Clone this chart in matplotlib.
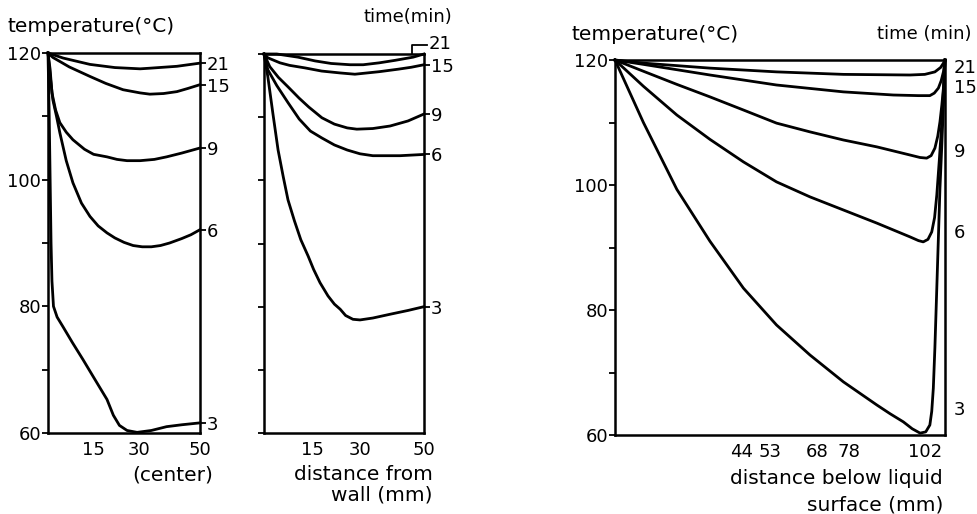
import matplotlib
matplotlib.use("Agg")
import matplotlib.pyplot as plt

plt.rcParams["font.family"] = ["DejaVu Sans"]

# ---- data ----
times = [21, 15, 9, 6, 3]

# left panel: distance from wall to center (mm) vs temperature
left_x = {
    21: [0, 5, 13.8, 22, 30.3, 33.5, 42.4, 50],
    15: [0, 1.6, 7, 13.8, 19, 24.7, 30.3, 33.5, 38, 42.4, 46, 50],
    9: [0, 0.7, 1.3, 2.5, 3.9, 6, 8.2, 12, 15, 19.4, 22.7, 26, 30.3, 35, 39, 44, 50],
    6: [0, 0.7, 1.6, 2.8, 3.9, 6, 8.2, 11, 13.8, 16.5, 19.4, 22, 25, 28, 31, 34, 37, 40, 44, 47, 50],
    3: [0, 0.4, 0.7, 1.0, 1.3, 1.8, 3, 4.9, 8, 11.5, 15, 19.4, 21.5, 23.5, 26, 29.3, 34, 39, 44, 50],
}
left_t = {
    21: [120, 119.2, 118.2, 117.7, 117.5, 117.6, 117.9, 118.4],
    15: [120, 119.3, 117.8, 116.3, 115.2, 114.2, 113.7, 113.5, 113.6, 113.9, 114.4, 115],
    9: [120, 117.4, 113.7, 111, 109, 107.5, 106.3, 104.8, 104, 103.6, 103.2, 103.0, 103, 103.2, 103.6, 104.2, 105],
    6: [120, 116.5, 112.6, 110, 107.4, 103, 99.5, 96.3, 94.2, 92.7, 91.6, 90.8, 90.1, 89.6, 89.4, 89.4,
        89.6, 90, 90.7, 91.3, 92.1],
    3: [120, 110, 100, 90, 84, 80, 78.3, 76.8, 74.3, 71.6, 68.8, 65.3, 62.8, 61.2, 60.4, 60.1, 60.4, 61, 61.3, 61.6],
}

# middle panel: distance from wall (mm) vs temperature
mid_x = {
    21: [0, 4, 10.6, 16, 21, 26.9, 31, 36, 41, 46.6, 50],
    15: [0, 1.2, 5, 8, 12.8, 18, 23.8, 28.4, 36, 42, 46, 50],
    9: [0, 1.8, 4.5, 7.5, 11, 14, 18.1, 22, 26, 29, 34, 39.4, 45, 50],
    6: [0, 1.2, 4, 7.5, 11, 14.5, 18.1, 22, 26, 30, 34, 42.5, 50],
    3: [0, 1.2, 2.8, 4.4, 6, 7.5, 9.5, 11.5, 13.8, 15.5, 17.5, 20, 22, 23.8, 25.5, 27.8, 30, 34, 39.4, 45, 50],
}
mid_t = {
    21: [120, 120, 119.5, 118.9, 118.5, 118.3, 118.3, 118.6, 119, 119.5, 120],
    15: [120, 119.4, 118.6, 118.2, 117.8, 117.3, 117, 116.8, 117.2, 117.6, 117.9, 118.3],
    9: [120, 118, 116.3, 114.8, 113, 111.6, 109.9, 108.9, 108.3, 108.1, 108.2, 108.6, 109.4, 110.5],
    6: [120, 117.5, 115, 112.3, 109.7, 107.8, 106.7, 105.6, 104.8, 104.2, 103.9, 103.9, 104.1],
    3: [120, 116.4, 110.5, 104.8, 100.6, 96.9, 93.6, 90.6, 88, 85.9, 83.8, 81.7, 80.4, 79.6, 78.6, 78,
        77.9, 78.2, 78.8, 79.4, 80],
}

# right panel: distance below liquid surface (mm) vs temperature
surf_x = {
    21: [3.8, 12.8, 33.9, 55, 76.2, 97.3, 102, 105.2, 107, 107.9, 108.4],
    15: [3.8, 12.8, 33.9, 55, 76.2, 92, 100, 103.6, 105, 106.3, 107.2, 107.9, 108.4],
    9: [3.8, 12.8, 23.4, 33.9, 44.5, 55, 65.6, 76.2, 86.8, 97.3, 100.5, 102.6, 104, 105.2, 106.1, 106.8,
        107.4, 107.9, 108.4],
    6: [3.8, 12.8, 23.4, 33.9, 44.5, 55, 65.6, 76.2, 86.8, 97.3, 100, 101.5, 103, 104.2, 105.1, 105.8,
        106.6, 107.4, 107.9, 108.4],
    3: [3.8, 12.8, 23.4, 33.9, 44.5, 55, 65.6, 76.2, 86.8, 91, 95.2, 98, 100.5, 102.3, 103.6, 104.2,
        104.7, 105.2, 105.8, 106.3, 106.8, 107.4, 107.9, 108.4],
}
surf_t = {
    21: [120, 119.5, 118.7, 118.1, 117.7, 117.6, 117.7, 118.1, 118.8, 119.5, 120],
    15: [120, 119.3, 117.6, 116, 114.9, 114.4, 114.3, 114.3, 114.7, 115.5, 116.7, 118.1, 120],
    9: [120, 118.2, 116.1, 114.1, 112, 109.9, 108.5, 107.2, 106.1, 104.8, 104.4, 104.3, 104.7, 105.9,
        107.8, 110.1, 112.8, 115.5, 120],
    6: [120, 115.8, 111.2, 107.3, 103.7, 100.5, 98.1, 96, 93.9, 91.7, 91.1, 90.9, 91.3, 92.5, 94.8, 98.4,
        104, 110.1, 115, 120],
    3: [120, 110, 99.3, 91, 83.5, 77.6, 72.8, 68.5, 64.8, 63.4, 62.1, 61, 60.3, 60.5, 61.6, 63.8, 67.5,
        74, 83.5, 91.5, 99.5, 106.5, 112.8, 120],
}
surf_label_t = [118.7, 115.5, 105.3, 92.3, 64]

wall_ticks = [15, 30, 50]
surf_ticks = [44, 53, 68, 78, 102]
y_ticks = [60, 70, 80, 90, 100, 110, 120]
y_labels = ["60", "", "80", "", "100", "", "120"]

W, H = 978, 514
FS = 13      # numbers
FW = 14.5    # words
LW = 2.0


def px(x0, y0, x1, y1):
    # pixel box -> figure fraction rect
    return [x0 / W, 1 - y1 / H, (x1 - x0) / W, (y1 - y0) / H]


def style_axes(ax, xlim, labels=True):
    ax.set_xlim(*xlim)
    ax.set_ylim(60, 120)
    for s in ax.spines.values():
        s.set_linewidth(1.8)
    ax.set_yticks(y_ticks)
    ax.set_yticklabels(y_labels if labels else [""] * len(y_ticks))
    ax.tick_params(axis="y", direction="out", length=4, width=1.3, pad=1, labelsize=FS)
    ax.tick_params(axis="x", length=0, pad=6, labelsize=FS)


fig = plt.figure(figsize=(W / 100, H / 100), dpi=100)

# left panel
ax1 = fig.add_axes(px(48, 53, 200, 433))
for t in times:
    ax1.plot(left_x[t], left_t[t], color="black", lw=LW, clip_on=False)
style_axes(ax1, (0, 50))
ax1.set_xticks(wall_ticks)
ax1.set_xticklabels([str(v) for v in wall_ticks])
sec1 = ax1.secondary_yaxis("right")
sec1.set_yticks([left_t[t][-1] for t in times])
sec1.set_yticklabels([str(t) for t in times])
sec1.tick_params(direction="out", length=4, width=1.3, pad=1, labelsize=FS)
sec1.spines["right"].set_visible(False)

# middle panel
ax2 = fig.add_axes(px(264, 54, 424, 433))
for t in times:
    ax2.plot(mid_x[t], mid_t[t], color="black", lw=LW, clip_on=False)
style_axes(ax2, (0, 50), labels=False)
ax2.set_xticks(wall_ticks)
ax2.set_xticklabels([str(v) for v in wall_ticks])
sec2 = ax2.secondary_yaxis("right")
sec2.set_yticks([mid_t[t][-1] for t in times[1:]])
sec2.set_yticklabels([str(t) for t in times[1:]])
sec2.tick_params(direction="out", length=4, width=1.3, pad=1, labelsize=FS)
sec2.spines["right"].set_visible(False)
# bracket leader for the 21 min curve sitting on the top edge
ax2.plot([46.3, 46.3, 51], [120, 121.4, 121.4], color="black", lw=1.3, clip_on=False)
ax2.text(51.3, 121.6, "21", fontsize=FS, va="center", ha="left")

# right panel
ax3 = fig.add_axes(px(615, 60, 945, 435))
for t in times:
    ax3.plot(surf_x[t], surf_t[t], color="black", lw=LW, clip_on=False)
style_axes(ax3, (3.8, 108.4))
ax3.set_xticks(surf_ticks)
ax3.set_xticklabels([str(v) for v in surf_ticks])
for t, yl in zip(times, surf_label_t):
    ax3.annotate(str(t), xy=(1, yl), xycoords=("axes fraction", "data"),
                 xytext=(9, 0), textcoords="offset pixels",
                 fontsize=FS, va="center", ha="left")

# axis titles and labels
fig.text(8 / W, 1 - 27 / H, "temperature(°C)", fontsize=FW, ha="left", va="center")
fig.text(452 / W, 1 - 17 / H, "time(min)", fontsize=FS, ha="right", va="center")
fig.text(213 / W, 1 - 475 / H, "(center)", fontsize=FW, ha="right", va="center")
fig.text(433 / W, 1 - 475 / H, "distance from", fontsize=FW, ha="right", va="center")
fig.text(433 / W, 1 - 495 / H, "wall (mm)", fontsize=FW, ha="right", va="center")

fig.text(572 / W, 1 - 34 / H, "temperature(°C)", fontsize=FW, ha="left", va="center")
fig.text(972 / W, 1 - 34 / H, "time (min)", fontsize=FS, ha="right", va="center")
fig.text(943 / W, 1 - 478 / H, "distance below liquid", fontsize=FW, ha="right", va="center")
fig.text(943 / W, 1 - 505 / H, "surface (mm)", fontsize=FW, ha="right", va="center")

fig.savefig("out.png", dpi=100)
